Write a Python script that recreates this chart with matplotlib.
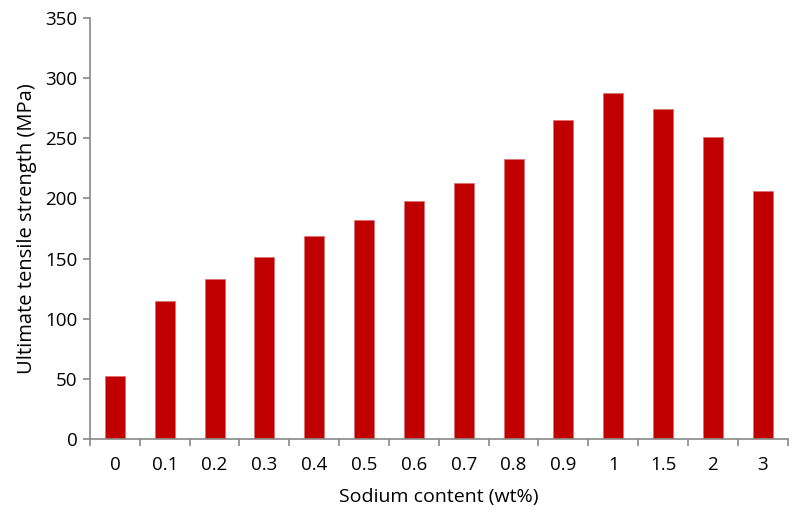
import matplotlib.pyplot as plt
import numpy as np

plt.rcParams['font.family'] = ['Open Sans', 'DejaVu Sans']

# sodium content categories and UTS values
sodium = ['0', '0.1', '0.2', '0.3', '0.4', '0.5', '0.6', '0.7', '0.8', '0.9', '1', '1.5', '2', '3']
uts = [52, 115, 133, 151, 169, 182, 198, 213, 233, 265, 288, 274, 251, 206]

fig = plt.figure(figsize=(8, 5.14), dpi=100)
ax = fig.add_axes([0.1125, 0.146, 0.872, 0.819])

x = np.arange(len(sodium))
ax.bar(x, uts, width=0.4, color='#c00000', edgecolor='#e07070', linewidth=0.6)

ax.set_xlim(-0.5, len(sodium) - 0.5)
ax.set_ylim(0, 350)
ax.set_yticks(np.arange(0, 351, 50))
ax.set_xticks(x)
ax.set_xticklabels(sodium)
# tick marks sit between categories
ax.set_xticks(np.arange(-0.5, len(sodium), 1), minor=True)
ax.tick_params(axis='x', which='major', length=0, pad=12, labelsize=13.5)
ax.tick_params(axis='x', which='minor', length=5, color='#898989', width=1.2, direction='out')
ax.tick_params(axis='y', length=5, color='#898989', width=1.2, labelsize=13.5, pad=4)

for s in ['top', 'right']:
    ax.spines[s].set_visible(False)
for s in ['left', 'bottom']:
    ax.spines[s].set_color('#898989')
    ax.spines[s].set_linewidth(1.2)

ax.set_xlabel('Sodium content (wt%)', fontsize=14, labelpad=10)
ax.set_ylabel('Ultimate tensile strength (MPa)', fontsize=14.5, labelpad=6)

fig.savefig('out.png', dpi=100)
